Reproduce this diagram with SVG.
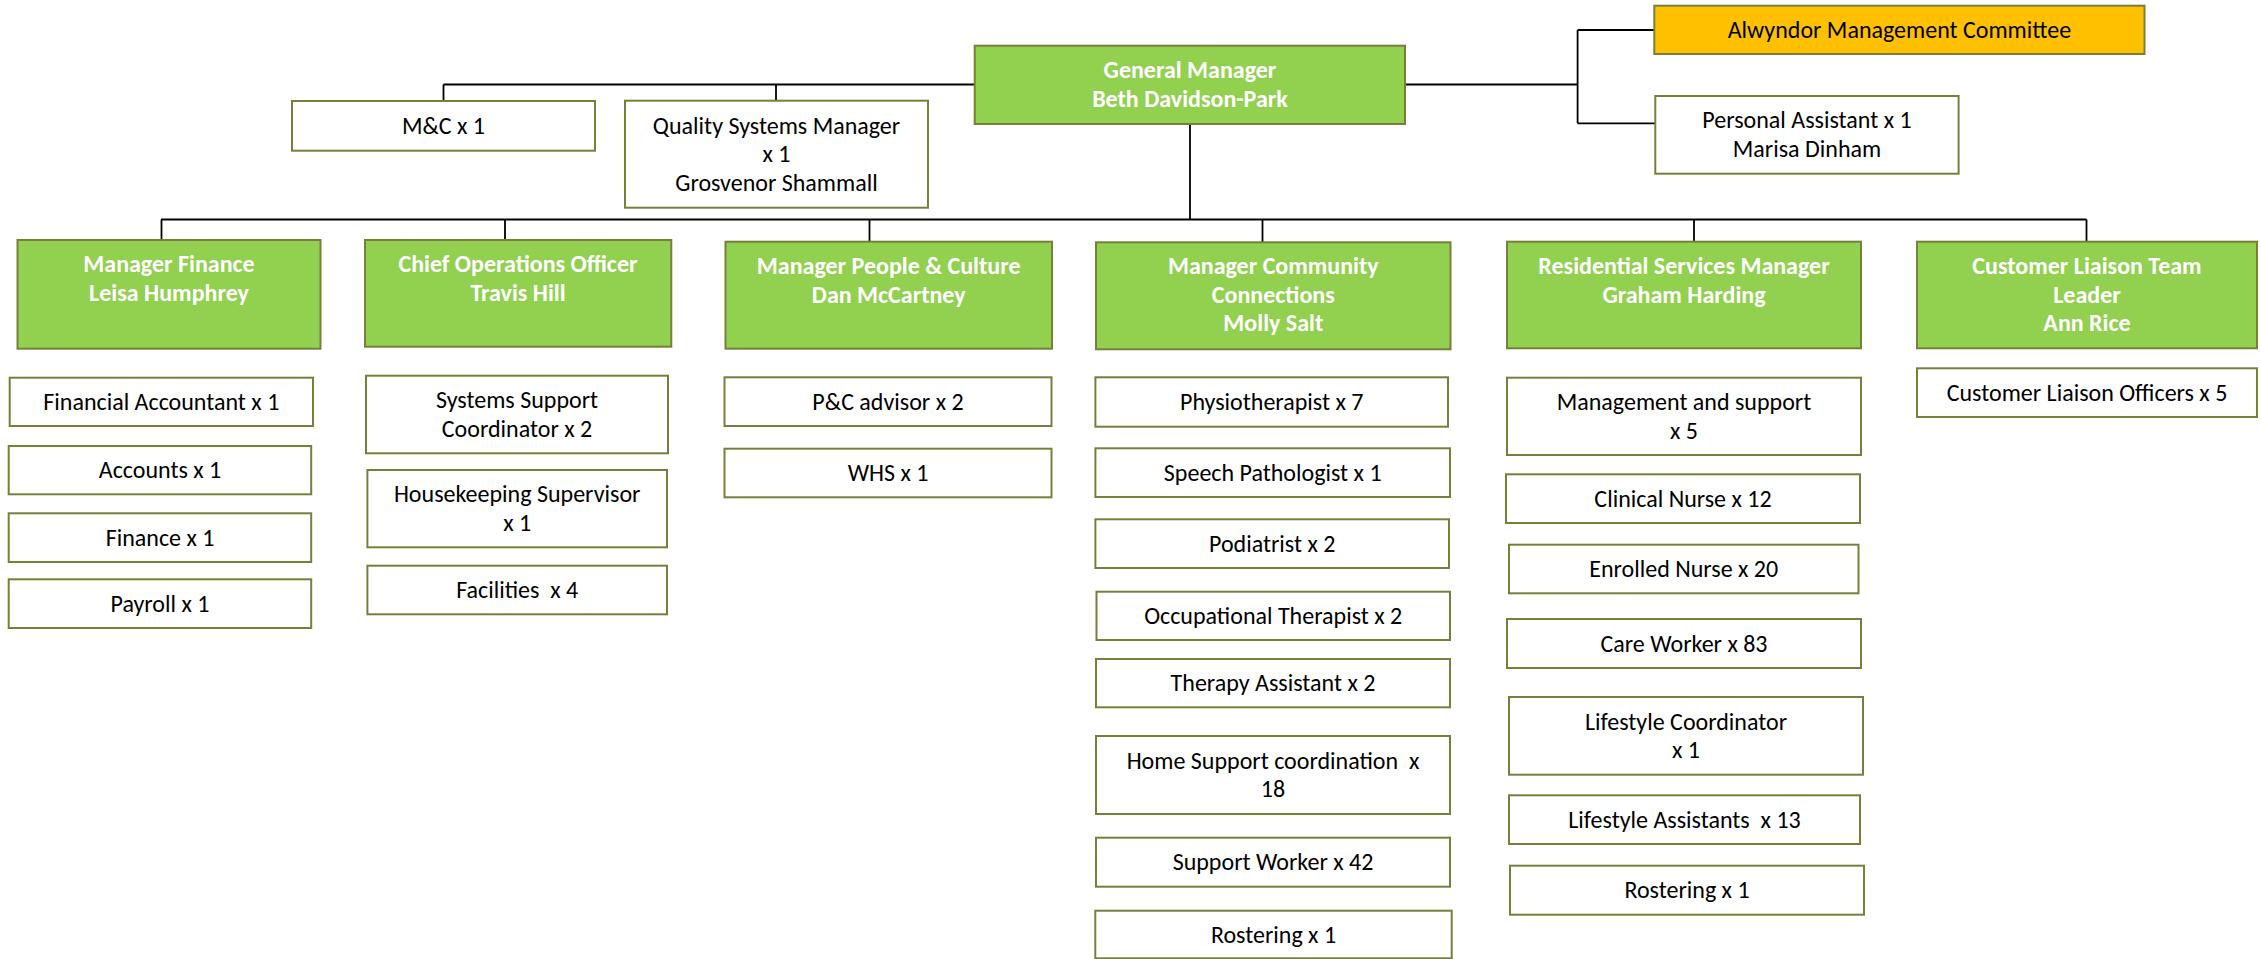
<svg xmlns="http://www.w3.org/2000/svg" width="2261" height="959" viewBox="0 0 2261 959">
<style>
.b{stroke:#76803A;stroke-width:2}
.g{fill:#92D050}
.w{fill:#FFFFFF}
.y{fill:#FFC000}
text{font-family:Carlito,"Liberation Sans Narrow","Liberation Sans",sans-serif;font-size:24px;text-anchor:middle}
.h{fill:#FFFFFF;font-weight:bold}
.t{fill:#000000}
.p{white-space:pre}
.ln{stroke:#000;fill:none}
</style>
<rect width="2261" height="959" fill="#FFFFFF"/>
<g id="connectors">
<path class="ln" stroke-width="2.2" d="M443.5,84.5H1577.6M161,219.5H2086.5"/>
<path class="ln" stroke-width="1.8" d="M443.5,84.5V101M776,84.5V100.7M1577.6,30V123.3M1577.6,30H1654.3M1577.6,123.3H1655M1190,124V219.5M161.5,219.5V240M505,219.5V240M869.5,219.5V241.7M1262.5,219.5V242.3M1694,219.5V241.7M2086.5,219.5V241.7"/>
</g>
<g id="gm"><rect class="b g" x="974.7" y="45.7" width="430.3" height="78.3"/><text class="h" x="1190" y="78.3">General Manager</text><text class="h" x="1190" y="106.7">Beth Davidson-Park</text></g>
<g id="mc"><rect class="b w" x="292" y="101" width="303" height="49.7"/><text class="t" x="443.5" y="134">M&amp;C x 1</text></g>
<g id="qsm"><rect class="b w" x="625" y="100.7" width="303" height="107"/><text class="t" x="776.5" y="133.7">Quality Systems Manager</text><text class="t" x="776.5" y="162.2">x 1</text><text class="t" x="776.5" y="190.7">Grosvenor Shammall</text></g>
<g id="amc"><rect class="b y" x="1654.3" y="5.7" width="490.2" height="48.3"/><text class="t" x="1899.4" y="38">Alwyndor Management Committee</text></g>
<g id="pa"><rect class="b w" x="1655.3" y="96" width="303.3" height="77.7"/><text class="t" x="1807" y="128.2">Personal Assistant x 1</text><text class="t" x="1807" y="156.7">Marisa Dinham</text></g>

<g id="finance"><rect class="b g" x="17.5" y="240" width="303" height="108.7"/><text class="h" x="169" y="272">Manager Finance</text><text class="h" x="169" y="300.5">Leisa Humphrey</text></g>
<g id="fa"><rect class="b w" x="9.7" y="377.7" width="303.3" height="48.3"/><text class="t" x="161.3" y="410">Financial Accountant x 1</text></g>
<g id="acc"><rect class="b w" x="8.7" y="446" width="302.5" height="48.3"/><text class="t" x="160" y="478.3">Accounts x 1</text></g>
<g id="fin"><rect class="b w" x="8.7" y="513.3" width="302.5" height="48.7"/><text class="t" x="160" y="545.8">Finance x 1</text></g>
<g id="pay"><rect class="b w" x="8.7" y="579.3" width="302.5" height="48.7"/><text class="t" x="160" y="611.8">Payroll x 1</text></g>

<g id="coo"><rect class="b g" x="365" y="240" width="306.3" height="106.7"/><text class="h" x="518" y="272">Chief Operations Officer</text><text class="h" x="518" y="300.5">Travis Hill</text></g>
<g id="ssc"><rect class="b w" x="366" y="375.7" width="302" height="77.6"/><text class="t" x="517" y="408.3">Systems Support</text><text class="t" x="517" y="436.8">Coordinator x 2</text></g>
<g id="hks"><rect class="b w" x="367.4" y="470" width="299.6" height="77.3"/><text class="t" x="517.2" y="502.4">Housekeeping Supervisor</text><text class="t" x="517.2" y="530.9">x 1</text></g>
<g id="fac"><rect class="b w" x="367.4" y="565.7" width="299.6" height="48.6"/><text class="t p" x="517.2" y="598">Facilities  x 4</text></g>

<g id="pc"><rect class="b g" x="725.5" y="241.7" width="326.5" height="107"/><text class="h" x="888.7" y="274">Manager People &amp; Culture</text><text class="h" x="888.7" y="302.5">Dan McCartney</text></g>
<g id="pca"><rect class="b w" x="724.5" y="377.3" width="327" height="48.7"/><text class="t" x="888" y="409.7">P&amp;C advisor x 2</text></g>
<g id="whs"><rect class="b w" x="724.5" y="448.7" width="327" height="48.6"/><text class="t" x="888" y="481">WHS x 1</text></g>

<g id="cc"><rect class="b g" x="1096" y="242.3" width="354.5" height="107"/><text class="h" x="1273.3" y="274.3">Manager Community</text><text class="h" x="1273.3" y="302.8">Connections</text><text class="h" x="1273.3" y="331.3">Molly Salt</text></g>
<g id="phy"><rect class="b w" x="1095.4" y="377.3" width="352.6" height="49.4"/><text class="t" x="1271.7" y="410">Physiotherapist x 7</text></g>
<g id="spe"><rect class="b w" x="1095.4" y="448.3" width="354.6" height="48.7"/><text class="t" x="1272.7" y="480.7">Speech Pathologist x 1</text></g>
<g id="pod"><rect class="b w" x="1095.4" y="519.3" width="353.6" height="48.7"/><text class="t" x="1272.2" y="551.7">Podiatrist x 2</text></g>
<g id="ot"><rect class="b w" x="1096.5" y="591.7" width="353.5" height="48.3"/><text class="t" x="1273.2" y="623.8">Occupational Therapist x 2</text></g>
<g id="ta"><rect class="b w" x="1096" y="659" width="354" height="48.3"/><text class="t" x="1273" y="691.2">Therapy Assistant x 2</text></g>
<g id="hsc"><rect class="b w" x="1096" y="736" width="354" height="78"/><text class="t p" x="1273" y="768.8">Home Support coordination  x</text><text class="t" x="1273" y="797.3">18</text></g>
<g id="sw"><rect class="b w" x="1096" y="837.7" width="354" height="49"/><text class="t" x="1273" y="870.2">Support Worker x 42</text></g>
<g id="ros1"><rect class="b w" x="1095.3" y="910.7" width="356.4" height="47.6"/><text class="t" x="1273.5" y="942.5">Rostering x 1</text></g>

<g id="rs"><rect class="b g" x="1507" y="241.7" width="354" height="106.6"/><text class="h" x="1684" y="274">Residential Services Manager</text><text class="h" x="1684" y="302.5">Graham Harding</text></g>
<g id="mas"><rect class="b w" x="1507" y="377.7" width="354" height="77.3"/><text class="t" x="1684" y="410">Management and support</text><text class="t" x="1684" y="438.5">x 5</text></g>
<g id="cn"><rect class="b w" x="1506" y="474.3" width="354" height="48.7"/><text class="t" x="1683" y="506.7">Clinical Nurse x 12</text></g>
<g id="en"><rect class="b w" x="1509" y="544.7" width="349.5" height="48.6"/><text class="t" x="1683.7" y="577">Enrolled Nurse x 20</text></g>
<g id="cw"><rect class="b w" x="1507" y="619" width="354" height="49"/><text class="t" x="1684" y="651.5">Care Worker x 83</text></g>
<g id="lc"><rect class="b w" x="1509" y="697" width="354" height="77.7"/><text class="t" x="1686" y="729.6">Lifestyle Coordinator</text><text class="t" x="1686" y="758.1">x 1</text></g>
<g id="la"><rect class="b w" x="1509" y="795.3" width="351" height="48.7"/><text class="t p" x="1684.5" y="827.7">Lifestyle Assistants  x 13</text></g>
<g id="ros2"><rect class="b w" x="1510" y="865.7" width="354" height="49"/><text class="t" x="1687" y="898.2">Rostering x 1</text></g>

<g id="cl"><rect class="b g" x="1917" y="241.7" width="340" height="106.6"/><text class="h" x="2087" y="274">Customer Liaison Team</text><text class="h" x="2087" y="302.5">Leader</text><text class="h" x="2087" y="331">Ann Rice</text></g>
<g id="clo"><rect class="b w" x="1917" y="368.3" width="340" height="48.7"/><text class="t" x="2087" y="400.7">Customer Liaison Officers x 5</text></g>
</svg>
